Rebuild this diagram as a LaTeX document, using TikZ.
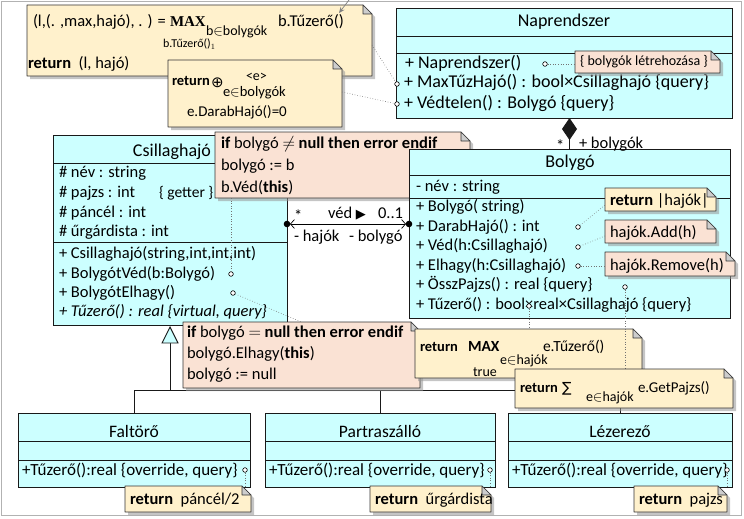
\documentclass[tikz,border=0pt]{standalone}
\usepackage{fontspec}
\setmainfont{Carlito}
\newfontfamily\djv{DejaVu Sans}
\newfontfamily\lserif{Liberation Serif}
\usetikzlibrary{arrows.meta,fit}
\definecolor{clsfill}{RGB}{204,255,255}
\definecolor{noteY}{RGB}{255,241,204}
\definecolor{noteP}{RGB}{250,226,212}
\definecolor{foldc}{RGB}{205,205,205}
\definecolor{shadowc}{RGB}{150,150,150}
\newcommand\fz[1]{\fontsize{#1}{#1}\selectfont}
\newcommand\notebox[4]{%
  \node[fit={(#2) (#3)}, inner sep=0pt, outer sep=0pt] (#1) {};
  \fill[shadowc, opacity=0.55] ([xshift=3pt,yshift=-3pt]#1.south west) -- ([xshift=3pt,yshift=-3pt]#1.north west) -- ([xshift=-6pt,yshift=-3pt]#1.north east) -- ([xshift=3pt,yshift=-12pt]#1.north east) -- ([xshift=3pt,yshift=-3pt]#1.south east) -- cycle;
  \filldraw[fill=#4, draw=black!80, line width=0.6pt, line join=round] (#1.south west) -- (#1.north west) -- ([xshift=-9pt]#1.north east) -- ([yshift=-9pt]#1.north east) -- (#1.south east) -- cycle;
  \filldraw[fill=foldc, draw=black!80, line width=0.6pt, line join=round] ([xshift=-9pt]#1.north east) -- ([xshift=-9pt,yshift=-9pt]#1.north east) -- ([yshift=-9pt]#1.north east) -- cycle;
}
\newcommand\classbox[5]{%
  \node[fit={(#2) (#3)}, inner sep=0pt, outer sep=0pt, draw=black!90, fill=clsfill, line width=0.9pt] (#1) {};
  \draw[line width=0.9pt, black!90] (#1.west |- 0,#4) -- (#1.east |- 0,#4);
  \draw[line width=0.9pt, black!90] (#1.west |- 0,#5) -- (#1.east |- 0,#5);
}
\begin{document}
\begin{tikzpicture}[x=1pt,y=-1pt,
  t/.style={anchor=base west, inner sep=0pt, outer sep=0pt, font=\fz{16.5}},
  tc/.style={anchor=base, inner sep=0pt, outer sep=0pt, font=\fz{17.5}},
  port/.style={circle, draw=black, fill=white, line width=0.6pt, minimum size=4.6pt, inner sep=0pt},
  dotl/.style={draw=black!55, dotted, line width=0.6pt},
  gen/.style={line width=0.9pt, black!90}]
\useasboundingbox (0,0) rectangle (744,519);
\draw[gray!60, line width=1pt] (1.5,1.5) rectangle (741,515);

% ---------- Csillaghajo
\classbox{cs}{53,135}{287,325}{163}{242}
\node[tc, font=\fz{18}] (csT) at (172,156) {Csillaghajó};
\node[t] (cs1) at (59,177) {\# név : string};
\node[t] (cs2) at (59,197) {\# pajzs : int};
\node[t, font=\fz{15.5}] (cs2b) at (159,197) {\{ getter \}};
\node[t] (cs3) at (59,217) {\# páncél : int};
\node[t] (cs4) at (59,236) {\# űrgárdista : int};
\node[t] (cs5) at (59,258) {+ Csillaghajó(string,int,int,int)};
\node[t] (cs6) at (59,278) {+ BolygótVéd(b:Bolygó)};
\node[t] (cs7) at (59,297) {+ BolygótElhagy()};
\node[t, font=\fz{16.5}\itshape] (cs8) at (59,316) {+ Tűzerő() : real \{virtual, query\}};
\node[port] (pVed) at (231,274) {};
\node[port] (pElh) at (233,293) {};

% ---------- Note A (under Bolygo)
\notebox{nA}{215,132}{470,198}{noteP}
\node[t] (nA1) at (221,148) {\textbf{if} bolygó $\neq$ \textbf{null then error endif}};
\node[t] (nA2) at (221,170) {bolygó := b};
\node[t] (nA3) at (221,192) {b.Véd(\textbf{this})};
\draw[dotl] (pVed) -- (pVed |- nA.south);

% ---------- subclasses
\classbox{fal}{18,413}{250,487}{441}{460}
\node[tc] (falT) at (134,437) {Faltörő};
\node[t, font=\fz{17}] (fal1) at (22,475) {+Tűzerő():real \{override, query\}};
\node[port] (pFal) at (245,470) {};
\classbox{par}{265,413}{495,487}{441}{460}
\node[tc] (parT) at (380,437) {Partraszálló};
\node[t, font=\fz{17}] (par1) at (269,475) {+Tűzerő():real \{override, query\}};
\node[port] (pPar) at (490,470) {};
\classbox{lez}{508,413}{732,487}{441}{460}
\node[tc] (lezT) at (620,437) {Lézerező};
\node[t, font=\fz{17}] (lez1) at (512,475) {+Tűzerő():real \{override, query\}};
\node[port] (pLez) at (727,470) {};

% ---------- generalization
\coordinate (gbus) at (170,390);
\draw[gen] ([yshift=-17pt]cs.south) -- (gbus);
\draw[gen] (fal.north) |- (lez.north |- gbus) -- (lez.north);
\draw[gen] (par.north) -- (par.north |- gbus);
\filldraw[gen, fill=clsfill] ([yshift=-2pt]cs.south) -- ++(8,16) -- ++(-16,0) -- cycle;

% ---------- Bolygo
\classbox{bol}{409,149}{730,318}{175}{198}
\node[tc, font=\fz{18}] (bolT) at (570,167) {Bolygó};
\node[t] (bol1) at (416,191) {- név : string};
\node[t] (bol2) at (416,211) {+ Bolygó( string)};
\node[t] (bol3) at (416,231) {+ DarabHajó() : int};
\node[t] (bol4) at (416,250) {+ Véd(h:Csillaghajó)};
\node[t] (bol5) at (416,270) {+ Elhagy(h:Csillaghajó)};
\node[t] (bol6) at (416,289) {+ ÖsszPajzs() : real \{query\}};
\node[t] (bol7) at (416,309) {+ Tűzerő() : bool×real×Csillaghajó \{query\}};
\node[port] (pDH) at (578,227) {};
\node[port] (pVd) at (578,247) {};
\node[port] (pEl) at (578,266) {};
\node[port] (pOP) at (625,287) {};
\node[port] (pTz) at (529,306) {};
\notebox{nR}{605,188}{716,211}{noteY}
\node[t] (nRt) at (610,205) {\textbf{return} |hajók|};
\notebox{nAdd}{605,220}{716,243}{noteP}
\node[t] (nAddt) at (610,237) {hajók.Add(h)};
\notebox{nRem}{605,252}{735,276}{noteP}
\node[t] (nRemt) at (610,270) {hajók.Remove(h)};
\draw[dotl] (pDH) -- ([yshift=6pt]nR.south west);
\draw[dotl] (pVd) -- ([yshift=7pt]nAdd.south west);
\draw[dotl] (pEl) -- (nRem.west |- pEl);

% ---------- association
\coordinate (aL) at (cs.east |- 0,224);
\coordinate (aR) at (bol.west |- 0,224);
\draw[line width=0.7pt, {Straight Barb[length=4pt,width=9pt]}-{Straight Barb[length=4pt,width=9pt]}, shorten <=3pt, shorten >=3pt] (aL) -- (aR);
\fill (aL) circle[radius=3.3pt];
\fill (aR) circle[radius=3.3pt];
\node[t] (aStar) at (294,221) {*};
\node[t] (aVed) at (328,218) {véd {\djv\fz{13}▶}};
\node[t] (aMul) at (378,218) {0..1};
\node[t] (aHaj) at (294,241) {- hajók};
\node[t] (aBol) at (349,241) {- bolygó};

% ---------- Naprendszer
\classbox{nap}{396,8}{732,118}{36}{53}
\node[tc, font=\fz{18}] (napT) at (564,27) {Naprendszer};
\node[t, font=\fz{18}] (nap1) at (405,68) {+ Naprendszer()};
\node[t, font=\fz{18}] (nap2) at (404,88) {+ MaxTűzHajó() : bool×Csillaghajó \{query\}};
\node[t, font=\fz{18}] (nap3) at (404,108) {+ Védtelen() : Bolygó \{query\}};
\node[port] (pNap) at (545,64) {};
\node[port] (pMax) at (397,84) {};
\node[port] (pVdt) at (397,104) {};
\notebox{nL}{575,51}{720,73}{noteP}
\node[t, font=\fz{14}] (nLt) at (580,66) {\{ bolygók létrehozása \}};
\draw[dotl] (pNap) -- (nL.west |- pNap);

% composition
\draw[gen, {Diamond[length=22pt,width=15pt]}-] (nap.south -| bol.north) -- (bol.north);
\node[t] (cStar) at (556,151) {*};
\node[t] (cLbl) at (579,148) {+ bolygók};

% ---------- notes 1 and 2
\notebox{n1}{27,5}{372,76}{noteY}
\node[t] (n1a) at (33,27) {(l,(. ,max,hajó), . ) =};
\node[t, font=\fz{15}\lserif\bfseries] (n1b) at (170,27) {MAX};
\node[t, font=\fz{14}] (n1c) at (206,36) {b$\in$bolygók};
\node[t] (n1d) at (278,27) {b.Tűzerő()};
\node[t, font=\fz{12}] (n1e) at (163,48) {b.Tűzerő()$_1$};
\node[t] (n1f) at (28,68) {\textbf{return}\ \ (l, hajó)};
\coordinate (extTop) at (349,0);
\coordinate (n1arr) at (339,13);
\draw[gray, line width=0.7pt, -{Stealth[length=6pt,width=5pt]}] (extTop) -- (n1arr);
\notebox{n2}{168,60}{342,127}{noteY}
\node[t, font=\fz{14.5}] (n2a) at (172,85) {\textbf{return}};
\node[t, font=\fz{15}\djv] (n2b) at (211,87) {⊕};
\node[t, font=\fz{14}] (n2c) at (246,81) {<e>};
\node[t, font=\fz{14.5}] (n2d) at (223,96) {e$\in$bolygók};
\node[t, font=\fz{15}] (n2e) at (187,116) {e.DarabHajó()=0};
\draw[dotl] (n1.east |- 0,45) -- (pMax);
\draw[dotl] (n2.east |- 0,92) -- (pVdt);

% ---------- Note B
\notebox{nB}{183,322}{420,388}{noteP}
\node[t] (nB1) at (187,337) {\textbf{if} bolygó $=$ \textbf{null then error endif}};
\node[t] (nB2) at (187,358) {bolygó.Elhagy(\textbf{this})};
\node[t] (nB3) at (187,379) {bolygó := null};
\draw[dotl] (pElh) -- (nB.north);

% ---------- Note C
\coordinate (nDtop) at (625,369);
\notebox{nC}{415,329}{642,378}{noteY}
\node[t, font=\fz{14.5}] (nC1) at (420,351) {\textbf{return}};
\node[t, font=\fz{15.5}] (nC1b) at (468,351) {\textbf{MAX}};
\node[t, font=\fz{14}] (nC2) at (500,364) {e$\in$hajók};
\node[t, font=\fz{15.5}] (nC3) at (543,351) {e.Tűzerő()};
\node[t, font=\fz{14}] (nC4) at (473,376) {true};
\draw[dotl] (pTz) -- (pTz |- nC.north);
\draw[dotl] (pOP) -- (nDtop);

% ---------- Note D
\notebox{nD}{515,369}{733,408}{noteY}
\node[t, font=\fz{14.5}] (nD1) at (520,392) {\textbf{return}};
\node[t, font=\fz{14}\djv] (nD2) at (562,392) {∑};
\node[t, font=\fz{14}] (nD3) at (586,401) {e$\in$hajók};
\node[t, font=\fz{15}] (nD4) at (638,392) {e.GetPajzs()};

% ---------- subclass notes
\notebox{nF}{125,486}{251,512}{noteY}
\node[t] (nFt) at (130,504) {\textbf{return}\ \ páncél/2};
\draw[dotl] (pFal) -- (pFal |- nF.north);
\notebox{nP}{370,486}{491,512}{noteY}
\node[t] (nPt) at (375,504) {\textbf{return}\ \ űrgárdista};
\draw[dotl] (pPar) -- (pPar |- nP.north);
\notebox{nZ}{634,486}{727,512}{noteY}
\node[t] (nZt) at (639,504) {\textbf{return}\ \ pajzs};
\draw[dotl] (pLez) -- (pLez |- nZ.north);
\end{tikzpicture}
\end{document}
